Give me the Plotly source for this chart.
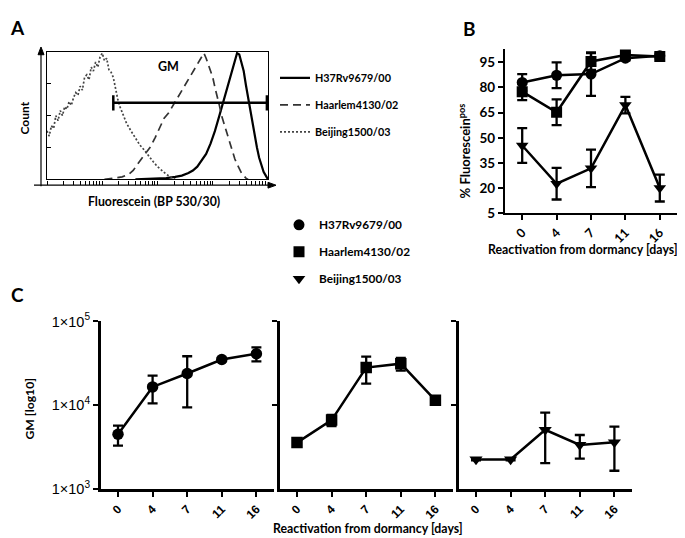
import plotly.graph_objects as go
import numpy as np

W, H = 685, 538
def fx(x): return x / W
def fy(y): return 1 - y / H

# ---------------- data ----------------
strains = ["H37Rv9679/00", "Haarlem4130/02", "Beijing1500/03"]
symbols = ["circle", "square", "triangle-down"]
days = ["0", "4", "7", "11", "16"]

# Panel A: fluorescence histograms (channel, normalised count)
a_h37_ch = [40, 45, 50, 54, 58, 61, 64, 66, 68, 70, 72, 74, 76, 78, 80, 82, 84, 85, 86, 87,
            88, 89, 90, 91, 92, 93, 94, 95, 96, 97, 98, 99, 100]
a_h37_ct = [0, .002, .005, .01, .02, .03, .05, .07, .10, .15, .20, .28, .38, .50, .62, .76, .88, .94, .99, .98,
            .92, .85, .74, .64, .54, .43, .33, .25, .17, .11, .06, .03, 0]
a_haar_ch = [26, 30, 34, 37, 39, 41, 43, 45, 47, 49, 51, 53, 55, 57, 59, 61, 63, 65, 67, 69,
             70, 71, 72, 73, 74, 75, 76, 77, 78, 79, 80, 81, 82, 83, 84, 85, 86, 87, 88, 89, 90, 91]
a_haar_ct = [0, .01, .02, .04, .07, .12, .17, .21, .26, .33, .40, .48, .52, .58, .64, .70, .76, .82, .88, .93,
             .97, .99, .95, .90, .85, .80, .72, .66, .58, .50, .44, .38, .32, .26, .21, .16, .12, .08, .05, .03, .01, 0]
a_beij_ch = [0, 1, 2, 3, 4, 5, 6, 7, 8, 9, 10, 11, 12, 13, 14, 15, 16, 17, 18, 19, 20, 21, 22, 23, 24, 25,
             26, 27, 28, 29, 30, 31, 32, 33, 34, 35, 36, 38, 40, 42, 44, 46, 48, 50, 52, 54, 56, 58]
a_beij_ct = [.38, .34, .42, .40, .50, .46, .54, .50, .57, .55, .61, .58, .64, .68, .66, .73, .70, .80, .82, .78,
             .88, .85, .92, .88, .96, .99, .93, .95, .86, .84, .80, .70, .63, .57, .53, .49, .44, .38, .32, .27,
             .23, .18, .14, .10, .07, .04, .02, 0]

# Panel B: % Fluorescein-positive (mean, SD)
b_h37 = [83, 87.3, 88, 97.5, 99]
b_h37_sd = [5, 7.7, 13, 1.5, 1.5]
b_haar = [77.5, 65.2, 95.5, 99.4, 98.5]
b_haar_sd = [5, 7.7, 5, 1.5, 1.5]
b_beij = [45.4, 22.6, 31.8, 69.5, 20]
b_beij_sd = [10.4, 9.4, 11.2, 4.9, 8]

# Panel C: GM (mean, SD)
c_h37 = [4480, 16500, 23900, 35100, 41200]
c_h37_sd = [1200, 6000, 14500, 1500, 7900]
c_haar = [3560, 6620, 28100, 31300, 11400]
c_haar_sd = [150, 1000, 10000, 5500, 800]
c_beij = [2240, 2240, 5070, 3340, 3590]
c_beij_sd = [60, 60, 3050, 1050, 1950]

c_ticks = [1e3, 1e4, 1e5]
c_ticktext = ["1×10<sup>3</sup>", "1×10<sup>4</sup>", "1×10<sup>5</sup>"]

# ---------------- figure ----------------
FONT = "Lato"
ARIAL = "Liberation Sans, Arial"
fig = go.Figure()

hist_x = [a_h37_ch, a_haar_ch, a_beij_ch]
hist_y = [a_h37_ct, a_haar_ct, a_beij_ct]
hist_line = [dict(color="black", width=2.2, dash="solid"),
             dict(color="#333", width=1.7, dash="8px,5px"),
             dict(color="#444", width=1.7, dash="2px,2px")]
for i in range(3):
    fig.add_trace(go.Scatter(x=hist_x[i], y=hist_y[i], mode="lines", line=hist_line[i],
                             name=strains[i], xaxis="x", yaxis="y", legend="legend2",
                             legendgroup="a%d" % i, hoverinfo="skip"))

b_means = [b_h37, b_haar, b_beij]
b_sds = [b_h37_sd, b_haar_sd, b_beij_sd]
for i in range(3):
    fig.add_trace(go.Scatter(x=days, y=b_means[i], mode="lines",
                             line=dict(color="black", width=2.5),
                             error_y=dict(type="data", array=b_sds[i], color="black", thickness=2.3, width=5),
                             xaxis="x2", yaxis="y2", showlegend=False))
for i in range(3):
    fig.add_trace(go.Scatter(x=days, y=b_means[i], mode="markers",
                             marker=dict(symbol=symbols[i], size=11, color="black"),
                             name=strains[i], xaxis="x2", yaxis="y2", legend="legend",
                             legendgroup="b%d" % i))

c_means = [c_h37, c_haar, c_beij]
c_sds = [c_h37_sd, c_haar_sd, c_beij_sd]
for i in range(3):
    fig.add_trace(go.Scatter(x=days, y=c_means[i], mode="lines+markers",
                             line=dict(color="black", width=2.5),
                             marker=dict(symbol=symbols[i], size=11.5, color="black"),
                             error_y=dict(type="data", array=c_sds[i], color="black", thickness=2.3, width=5),
                             xaxis="x%d" % (3 + i), yaxis="y%d" % (3 + i), showlegend=False))

# log-style minor ticks along the histogram bottom
a_xticks = [25 * (d + np.log10(k)) for d in range(4) for k in range(1, 10)]

layout = dict(
    width=W, height=H, margin=dict(l=0, r=0, t=0, b=0),
    paper_bgcolor="white", plot_bgcolor="white",
    font=dict(family=FONT, color="black"),
    xaxis=dict(domain=[fx(39), fx(260)], range=[0, 100], showline=True, linecolor="black",
               linewidth=1.2, mirror=True, showgrid=False, zeroline=False, ticks="outside",
               tickvals=a_xticks, ticklen=4, tickwidth=1, tickcolor="black",
               showticklabels=False, anchor="y"),
    yaxis=dict(domain=[fy(167), fy(35)], range=[0, 1.0], showline=True, linecolor="black",
               linewidth=1.2, mirror=True, showgrid=False, zeroline=False, ticks="inside",
               tickvals=[0.25, 0.5, 0.75], ticklen=4, tickcolor="black",
               showticklabels=False, anchor="x"),
    xaxis2=dict(domain=[fx(497), fx(669)], type="category", range=[-0.5, 4.5], anchor="y2",
                showline=True, linecolor="black", linewidth=2.2, showgrid=False, zeroline=False,
                ticks="outside", ticklen=5, tickwidth=2, tickcolor="black", tickangle=-45,
                tickfont=dict(family=FONT, size=12.5, weight="bold")),
    yaxis2=dict(domain=[fy(202), fy(32)], range=[5, 103], anchor="x2",
                tickvals=[5, 20, 35, 50, 65, 80, 95],
                showline=True, linecolor="black", linewidth=2.2, showgrid=False, zeroline=False,
                ticks="outside", ticklen=5, tickwidth=2, tickcolor="black",
                tickfont=dict(family=FONT, size=13.5, weight="bold")),
    legend=dict(x=fx(271), y=fy(199), xanchor="left", yanchor="top", bgcolor="rgba(0,0,0,0)",
                font=dict(family=FONT, size=11.8, weight="bold", color="black"), tracegroupgap=8),
    legend2=dict(x=fx(267), y=fy(47), xanchor="left", yanchor="top", bgcolor="rgba(0,0,0,0)",
                 font=dict(family=FONT, size=10.8, weight="bold", color="black"), tracegroupgap=8),
)

c_x = [(92.7, 265.7), (271.7, 444.7), (450.7, 623.7)]
for i in range(3):
    n = 3 + i
    layout["xaxis%d" % n] = dict(domain=[fx(c_x[i][0]), fx(c_x[i][1])], type="category",
                                 range=[-0.5, 4.5], anchor="y%d" % n,
                                 showline=True, linecolor="black", linewidth=2.5, showgrid=False,
                                 zeroline=False, ticks="outside", ticklen=6, tickwidth=2,
                                 tickcolor="black", tickangle=-45,
                                 tickfont=dict(family=ARIAL, size=12, weight="bold"))
    layout["yaxis%d" % n] = dict(domain=[fy(487), fy(314)], type="log", range=[3, 5],
                                 anchor="x%d" % n, tickvals=c_ticks if i == 0 else c_ticks[1:],
                                 ticktext=c_ticktext if i == 0 else c_ticktext[1:],
                                 showticklabels=(i == 0),
                                 showline=True, linecolor="black", linewidth=2.5, showgrid=False,
                                 zeroline=False, ticks="outside", ticklen=5, tickwidth=2,
                                 tickcolor="black", tickfont=dict(family=ARIAL, size=14.5))

fig.update_layout(**layout)

def ann(text, x, y, size=12.5, angle=0, family=FONT, weight="bold"):
    fig.add_annotation(text=text, x=fx(x), y=fy(y), xref="paper", yref="paper",
                       showarrow=False, textangle=angle, xanchor="center", yanchor="middle",
                       font=dict(family=family, size=size, color="black", weight=weight))

ann("A", 9, 10, size=19)
ann("B", 461, 11, size=19)
ann("C", 9, 286, size=19)
ann("Count", 17, 104, size=12, angle=-90)
ann("Fluorescein (BP 530/30)", 146, 190, size=12.3)
ann("GM", 160, 50, size=12.5)
ann("% Fluorescein<sup>pos</sup>", 456, 138, size=13, angle=-90)
ann("Reactivation from dormancy [days]", 575, 240, size=12.3)
ann("GM [log10]", 21, 404, size=12.2, angle=-90)
ann("Reactivation from dormancy [days]", 360, 528, size=12.3)

# axis arrows of the histogram panel (lines + heads)
fig.add_shape(type="line", xref="paper", yref="paper", x0=fx(26), x1=fx(262), y0=fy(173), y1=fy(173),
              line=dict(color="black", width=1.2))
fig.add_shape(type="path", xref="paper", yref="paper", fillcolor="black", line=dict(color="black", width=1),
              path="M %f %f L %f %f L %f %f Z" % (fx(268), fy(173), fx(260), fy(170), fx(260), fy(176)))
fig.add_shape(type="line", xref="paper", yref="paper", x0=fx(33), x1=fx(33), y0=fy(174), y1=fy(37),
              line=dict(color="black", width=1.2))
fig.add_shape(type="path", xref="paper", yref="paper", fillcolor="black", line=dict(color="black", width=1),
              path="M %f %f L %f %f L %f %f Z" % (fx(33), fy(30), fx(30), fy(38), fx(36), fy(38)))

# GM gate
fig.add_shape(type="line", xref="x", yref="y", x0=30, x1=99.5, y0=0.6, y1=0.6,
              line=dict(color="black", width=2.5))
for gx in (30, 99.5):
    fig.add_shape(type="line", xref="x", yref="y", x0=gx, x1=gx, y0=0.54, y1=0.66,
                  line=dict(color="black", width=2.5))

fig.write_html("out.html")
